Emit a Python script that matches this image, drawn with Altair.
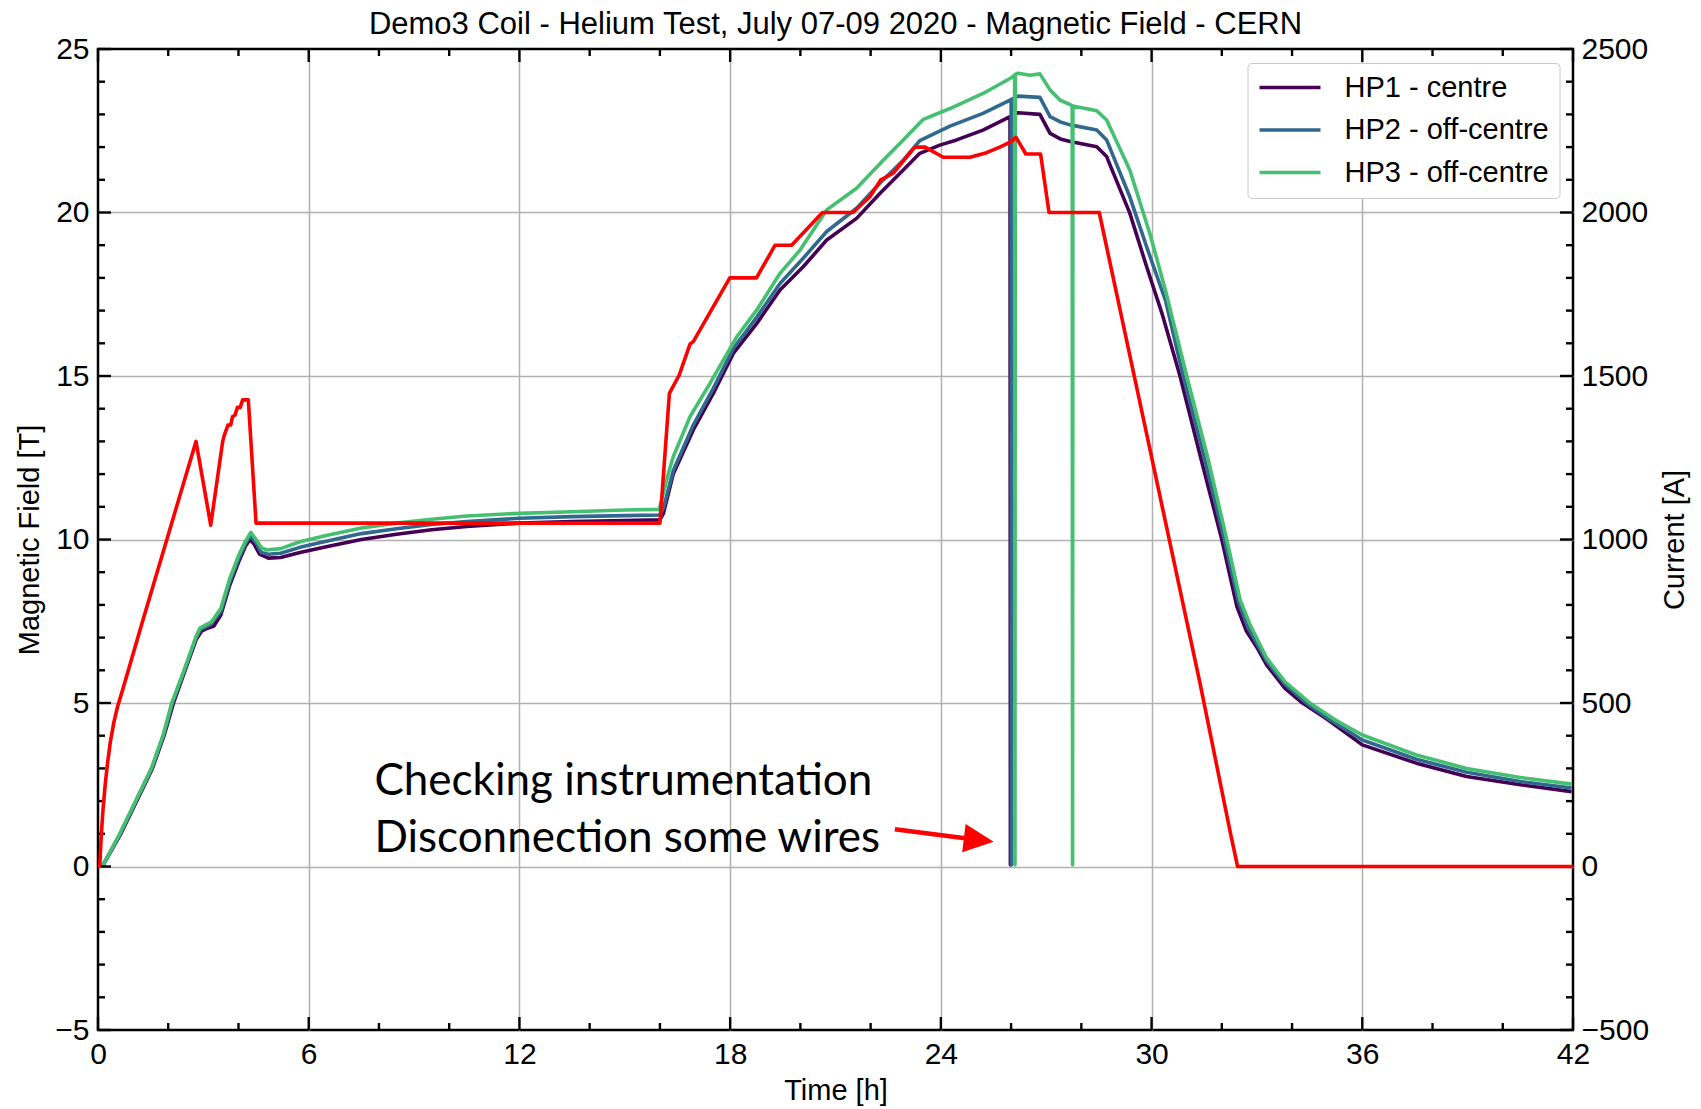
import altair as alt
import pandas as pd

TITLE = "Demo3 Coil - Helium Test, July 07-09 2020 - Magnetic Field - CERN"
PROBES = ["HP1 - centre", "HP2 - off-centre", "HP3 - off-centre"]
PROBE_COLORS = ["#440154", "#31688e", "#45bf70"]

# Hall probe HP1 (centre): time [h], field [T]
hp1_time = [0.12, 0.65, 1.1, 1.55, 1.88, 2.15, 2.48, 2.8, 2.95, 3.1, 3.3, 3.5, 3.75, 4.0, 4.2,
            4.33, 4.45, 4.6, 4.85, 5.2, 5.75, 6.5, 7.5, 8.5, 9.5, 10.5, 12.0, 13.5, 15.0, 16.0,
            16.1, 16.38, 16.95, 17.52, 18.09, 18.76, 19.42, 20.08, 20.75, 21.6, 22.27, 22.93,
            23.4, 23.97, 24.45, 25.2, 25.97, 25.98, 25.99, 26.2, 26.82, 27.11, 27.4, 27.68,
            28.44, 28.72, 29.38, 29.86, 30.3, 30.81, 31.4, 32.0, 32.43, 32.7, 33.0, 33.28, 33.8,
            34.3, 35.0, 36.0, 37.54, 38.97, 40.5, 41.96]
hp1_field = [0.0, 1.0, 2.0, 3.0, 4.0, 5.0, 6.0, 6.95, 7.2, 7.28, 7.35, 7.7, 8.6, 9.3, 9.8,
             10.0, 9.85, 9.55, 9.43, 9.45, 9.6, 9.78, 10.0, 10.16, 10.3, 10.4, 10.5, 10.55, 10.58, 10.6,
             10.8, 12.0, 13.35, 14.47, 15.69, 16.61, 17.63, 18.34, 19.16, 19.82, 20.59, 21.3,
             21.81, 22.06, 22.22, 22.52, 22.93, 0.05, 22.95, 23.05, 23.0, 22.42, 22.25, 22.17,
             22.01, 21.71, 19.98, 18.34, 16.9, 15.0, 12.5, 10.0, 7.95, 7.2, 6.7, 6.16, 5.45,
             5.0, 4.5, 3.72, 3.16, 2.75, 2.5, 2.29]

# Hall probe HP2 (off-centre)
hp2_time = [0.12, 0.63, 1.08, 1.53, 1.86, 2.12, 2.46, 2.79, 2.92, 3.2, 3.5, 3.75, 4.0, 4.2,
            4.34, 4.5, 4.65, 4.85, 5.2, 5.75, 6.5, 7.5, 8.5, 9.5, 10.5, 12.0, 13.5, 15.0, 16.0,
            16.1, 16.38, 16.95, 17.52, 18.09, 18.76, 19.42, 20.08, 20.75, 21.6, 22.27, 22.93,
            23.4, 24.26, 25.2, 26.0, 26.01, 26.02, 26.2, 26.82, 27.11, 27.4, 27.68, 28.44, 28.72,
            29.38, 29.86, 30.4, 30.9, 31.5, 32.07, 32.48, 32.75, 33.28, 33.8, 34.4, 35.1, 36.0,
            37.54, 38.97, 40.5, 41.96]
hp2_field = [0.0, 1.0, 2.0, 3.0, 4.0, 5.0, 6.0, 6.98, 7.25, 7.4, 7.8, 8.7, 9.4, 9.88,
             10.12, 9.9, 9.6, 9.55, 9.58, 9.76, 9.95, 10.18, 10.33, 10.46, 10.55, 10.65, 10.7, 10.73, 10.75,
             10.95, 12.1, 13.5, 14.62, 15.84, 16.8, 17.83, 18.6, 19.42, 20.13, 20.9, 21.6,
             22.2, 22.64, 23.03, 23.45, 0.05, 23.47, 23.56, 23.52, 22.93, 22.77, 22.68, 22.52, 22.22,
             20.48, 18.95, 17.3, 15.0, 12.5, 10.0, 8.08, 7.3, 6.27, 5.57, 5.0, 4.47, 3.87,
             3.28, 2.88, 2.6, 2.4]

# Hall probe HP3 (off-centre)
hp3_time = [0.12, 0.62, 1.07, 1.52, 1.85, 2.1, 2.45, 2.78, 2.9, 3.24, 3.5, 3.75, 4.0, 4.2,
            4.35, 4.5, 4.65, 4.8, 5.2, 5.75, 6.5, 7.5, 8.5, 9.5, 10.5, 12.0, 13.5, 15.0, 15.98,
            16.24, 16.38, 16.86, 17.43, 18.19, 18.76, 19.42, 19.99, 20.75, 21.6, 22.36, 22.93,
            23.5, 24.26, 25.2, 26.02, 26.1, 26.11, 26.12, 26.2, 26.54, 26.82, 27.11, 27.39,
            27.74, 27.75, 27.76, 28.44, 28.72, 29.38, 29.76, 29.95, 30.4, 31.0, 31.6, 32.14,
            32.52, 32.8, 33.28, 33.8, 34.51, 35.2, 36.0, 37.54, 38.97, 40.5, 41.96]
hp3_field = [0.0, 1.0, 2.0, 3.0, 4.0, 5.0, 6.0, 7.0, 7.29, 7.49, 7.9, 8.8, 9.5, 9.95,
             10.22, 10.0, 9.75, 9.68, 9.72, 9.93, 10.12, 10.35, 10.5, 10.62, 10.72, 10.8, 10.85, 10.9, 10.92,
             12.02, 12.53, 13.76, 14.78, 16.2, 17.02, 18.14, 18.85, 20.08, 20.74, 21.6, 22.22,
             22.85, 23.18, 23.64, 24.13, 24.2, 0.05, 24.22, 24.26, 24.2, 24.24, 23.75, 23.44,
             23.27, 0.05, 23.26, 23.11, 22.83, 21.3, 20.0, 19.36, 17.6, 15.0, 12.5, 10.0,
             8.16, 7.4, 6.37, 5.65, 5.0, 4.5, 4.02, 3.41, 3.0, 2.72, 2.52]

# Coil current: time [h], current [A]
cur_time = [0.0, 0.05, 0.09, 0.14, 0.2, 0.27, 0.35, 0.45, 0.56, 0.7, 1.28, 2.79, 3.21, 3.55,
            3.6, 3.7, 3.78, 3.83, 3.9, 3.97, 4.05, 4.12, 4.28, 4.5, 16.0, 16.27, 16.55, 16.86,
            16.95, 17.99, 18.75, 19.28, 19.75, 20.63, 21.5, 21.98, 22.29, 22.64, 23.26, 23.55,
            24.07, 24.83, 25.3, 25.68, 26.0, 26.14, 26.42, 26.84, 27.08, 28.51, 31.38, 32.25,
            32.45, 32.8, 42.0]
cur_amps = [0, 0, 90, 170, 245, 315, 380, 440, 490, 540, 754, 1300, 1044, 1300,
            1320, 1350, 1350, 1376, 1380, 1404, 1404, 1427, 1427, 1050, 1050, 1447, 1503, 1598,
            1605, 1800, 1800, 1900, 1900, 2000, 2000, 2048, 2100, 2120, 2200, 2200,
            2169, 2169, 2183, 2200, 2217, 2230, 2179, 2179, 2000, 2000, 560, 100,
            0, 0, 0]

# Annotation text and arrow (data coordinates)
note_lines = ["Checking instrumentation", "Disconnection some wires"]
note_time = [7.87, 7.87]
note_field = [2.19, 0.45]
arrow_time = [22.69, 25.08]
arrow_field = [1.14, 0.81]

# Axis tick positions
x_major = list(range(0, 43, 6))
x_minor = [v for v in range(0, 43, 2) if v % 6]
y_major = list(range(-5, 26, 5))
y_minor = [v for v in range(-5, 26) if v % 5]
cur_major = list(range(-500, 2501, 500))

W, H = 1475, 981
FONT = "Liberation Sans"
LW = 3.6

field_df = pd.concat([
    pd.DataFrame({"t": tt, "B": bb, "probe": name})
    for tt, bb, name in [(hp1_time, hp1_field, PROBES[0]),
                         (hp2_time, hp2_field, PROBES[1]),
                         (hp3_time, hp3_field, PROBES[2])]
], ignore_index=True)
field_df["order"] = range(len(field_df))
cur_df = pd.DataFrame({"t": cur_time, "A": cur_amps})
cur_df["order"] = range(len(cur_df))
note_df = pd.DataFrame({"t": note_time, "B": note_field, "label": note_lines})
arrow_df = pd.DataFrame({"t": arrow_time, "B": arrow_field})
head_df = arrow_df.iloc[[-1]]

x_scale = alt.Scale(domain=[0, 42], nice=False, zero=False)
yl_scale = alt.Scale(domain=[-5, 25], nice=False, zero=False)
yr_scale = alt.Scale(domain=[-500, 2500], nice=False, zero=False)

grid_edge_x = {"condition": {"test": "datum.value <= 0 || datum.value >= 42", "value": 0}, "value": 1}
grid_edge_y = {"condition": {"test": "datum.value <= -5 || datum.value >= 25", "value": 0}, "value": 1}

AX = dict(labelFont=FONT, titleFont=FONT, labelFontSize=30, titleFontSize=29,
          labelColor="black", titleColor="black", titleFontWeight="normal",
          ticks=False, tickSize=0, domain=False, labelFlush=False, labelOverlap=False)

x_axis = alt.Axis(title="Time [h]", values=x_major, grid=True, gridOpacity=grid_edge_x,
                  gridColor="#b0b0b0", gridWidth=1.5, labelPadding=9, titlePadding=7, **AX)
yl_axis = alt.Axis(title="Magnetic Field [T]", values=y_major, grid=True, gridOpacity=grid_edge_y,
                   gridColor="#b0b0b0", gridWidth=1.5, labelPadding=9, titlePadding=10, **AX)
yr_axis = alt.Axis(title="Current [A]", orient="right", values=cur_major, grid=False, format="d",
                   labelPadding=8, titlePadding=41, titleAngle=270, **AX)

X = alt.X("t:Q", scale=x_scale, axis=x_axis)
YL = alt.Y("B:Q", scale=yl_scale, axis=yl_axis)

legend = alt.Legend(title=None, orient="none", legendX=1149.5, legendY=14,
                    symbolType="stroke", symbolSize=3721, symbolStrokeWidth=3.5,
                    labelFontSize=29, labelFont=FONT, labelColor="black", labelOffset=22,
                    labelLimit=400, clipHeight=29, rowPadding=12.5, padding=10,
                    strokeColor="#c8c8c8", fillColor="white", cornerRadius=4)

fields = alt.Chart(field_df).mark_line(strokeWidth=LW, strokeJoin="round").encode(
    x=X, y=YL,
    color=alt.Color("probe:N", scale=alt.Scale(domain=PROBES, range=PROBE_COLORS), legend=legend),
    order="order:Q",
)

notes = alt.Chart(note_df).mark_text(align="left", baseline="alphabetic", font="Lato",
                                     fontSize=44, color="black").encode(x=X, y=YL, text="label:N")
shaft = alt.Chart(arrow_df).mark_line(color="#ff0000", strokeWidth=4.5).encode(x=X, y=YL)
head = alt.Chart(head_df).mark_point(shape="M-1,-0.95L1,0L-1,0.95Z", filled=True, size=900,
                                     angle=7, color="#ff0000", opacity=1).encode(x=X, y=YL)

# Inward tick marks on all four sides
TW = 2.4
xt_major = pd.DataFrame({"t": x_major})
xt_minor = pd.DataFrame({"t": x_minor})
yt_major = pd.DataFrame({"B": y_major})
yt_minor = pd.DataFrame({"B": y_minor})
ticks = []
for df, ln in [(xt_major, 13), (xt_minor, 7)]:
    ticks.append(alt.Chart(df).mark_rule(color="black", strokeWidth=TW).encode(
        x=X, y=alt.value(H), y2=alt.value(H - ln)))
    ticks.append(alt.Chart(df).mark_rule(color="black", strokeWidth=TW).encode(
        x=X, y=alt.value(0), y2=alt.value(ln)))
for df, ln in [(yt_major, 13), (yt_minor, 7)]:
    ticks.append(alt.Chart(df).mark_rule(color="black", strokeWidth=TW).encode(
        y=YL, x=alt.value(0), x2=alt.value(ln)))
    ticks.append(alt.Chart(df).mark_rule(color="black", strokeWidth=TW).encode(
        y=YL, x=alt.value(W), x2=alt.value(W - ln)))

left = alt.layer(fields, *ticks, notes, shaft, head)

current = alt.Chart(cur_df).mark_line(color="#ff0000", strokeWidth=LW, strokeJoin="round").encode(
    x=X,
    y=alt.Y("A:Q", scale=yr_scale, axis=yr_axis),
    order="order:Q",
)

chart = alt.layer(left, current).resolve_scale(y="independent").properties(
    width=W, height=H,
    title=alt.TitleParams(TITLE, fontSize=31, font=FONT, fontWeight="normal",
                          anchor="middle", frame="group", offset=6, dy=13, color="black"),
    padding={"left": 98, "top": 49, "right": 128, "bottom": 79},
    autosize=alt.AutoSizeParams(type="none"),
    background="white",
).configure_view(
    stroke="black", strokeWidth=2.5
)

chart.save("out.html", embed_options={"renderer": "svg", "actions": False})
